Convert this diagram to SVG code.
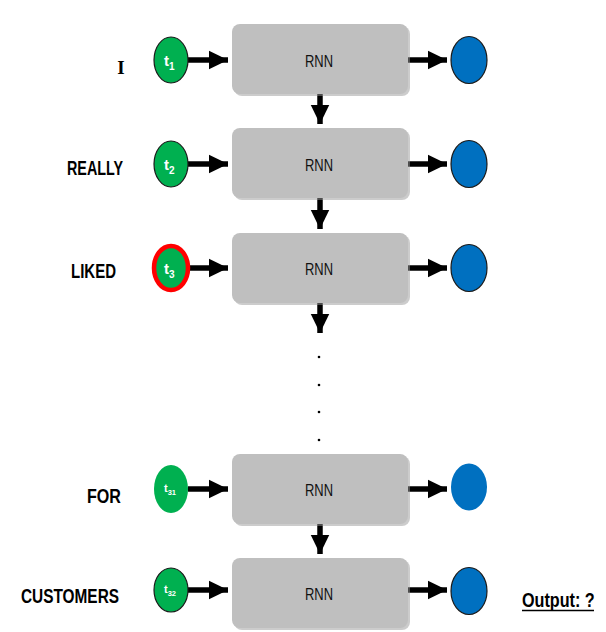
<svg xmlns="http://www.w3.org/2000/svg" width="606" height="632" viewBox="0 0 606 632">
<style>
.box{fill:#BFBFBF}
.shadow{fill:#9a9a9a;opacity:0.5}
.rnn{font-family:"Liberation Sans",Arial,sans-serif;font-size:16px;fill:#111}
.lbl{font-family:"Liberation Sans",Arial,sans-serif;font-weight:bold;font-size:21px;fill:#000}
.green{fill:#00B050}
.blue{fill:#0070C0}
.st{stroke:#1a1a1a;stroke-width:1.2}
.t{font-family:"Liberation Sans",Arial,sans-serif;font-weight:bold;fill:#fff}
.conn{stroke:#000;stroke-width:5.5;fill:none}
.dot{fill:#000}
</style>
<defs>
<marker id="ah" markerWidth="4" markerHeight="4" refX="3.5" refY="2" orient="auto" markerUnits="strokeWidth" viewBox="0 0 4 4">
<path d="M0,0.3 L3.5,2 L0,3.7 Z" fill="#000"/>
</marker>
</defs>

<g id="connectors">
<line class="conn" x1="188" y1="60" x2="228" y2="60" marker-end="url(#ah)"/>
<line class="conn" x1="408" y1="60" x2="447" y2="60" marker-end="url(#ah)"/>
<line class="conn" x1="320" y1="94" x2="320" y2="124" marker-end="url(#ah)"/>
<line class="conn" x1="188" y1="164" x2="228" y2="164" marker-end="url(#ah)"/>
<line class="conn" x1="408" y1="164" x2="447" y2="164" marker-end="url(#ah)"/>
<line class="conn" x1="320" y1="198" x2="320" y2="229" marker-end="url(#ah)"/>
<line class="conn" x1="190" y1="268" x2="228" y2="268" marker-end="url(#ah)"/>
<line class="conn" x1="408" y1="268" x2="447" y2="268" marker-end="url(#ah)"/>
<line class="conn" x1="320" y1="303" x2="320" y2="333" marker-end="url(#ah)"/>
<line class="conn" x1="188" y1="489" x2="228" y2="489" marker-end="url(#ah)"/>
<line class="conn" x1="408" y1="489" x2="447" y2="489" marker-end="url(#ah)"/>
<line class="conn" x1="320" y1="524" x2="320" y2="554" marker-end="url(#ah)"/>
<line class="conn" x1="188" y1="590" x2="228" y2="590" marker-end="url(#ah)"/>
<line class="conn" x1="408" y1="590" x2="447" y2="590" marker-end="url(#ah)"/>
</g>

<g id="dots">
<circle class="dot" cx="319" cy="357" r="1.3"/>
<circle class="dot" cx="319" cy="385" r="1.3"/>
<circle class="dot" cx="319" cy="412" r="1.3"/>
<circle class="dot" cx="319" cy="440" r="1.3"/>
</g>

<g id="rnn1"><rect class="shadow" x="234" y="26" width="176" height="70" rx="8"/><rect class="box" x="232" y="24" width="176" height="70" rx="8"/><text class="rnn" x="319" y="67" text-anchor="middle" textLength="28" lengthAdjust="spacingAndGlyphs">RNN</text></g>
<g id="rnn2"><rect class="shadow" x="234" y="130" width="176" height="70" rx="8"/><rect class="box" x="232" y="128" width="176" height="70" rx="8"/><text class="rnn" x="319" y="171" text-anchor="middle" textLength="28" lengthAdjust="spacingAndGlyphs">RNN</text></g>
<g id="rnn3"><rect class="shadow" x="234" y="235" width="176" height="70" rx="8"/><rect class="box" x="232" y="233" width="176" height="70" rx="8"/><text class="rnn" x="319" y="275" text-anchor="middle" textLength="28" lengthAdjust="spacingAndGlyphs">RNN</text></g>
<g id="rnn5"><rect class="shadow" x="234" y="456" width="176" height="70" rx="8"/><rect class="box" x="232" y="454" width="176" height="70" rx="8"/><text class="rnn" x="319" y="496" text-anchor="middle" textLength="28" lengthAdjust="spacingAndGlyphs">RNN</text></g>
<g id="rnn6"><rect class="shadow" x="234" y="560" width="176" height="70" rx="8"/><rect class="box" x="232" y="558" width="176" height="70" rx="8"/><text class="rnn" x="319" y="600" text-anchor="middle" textLength="28" lengthAdjust="spacingAndGlyphs">RNN</text></g>

<g id="in1"><ellipse class="green st" cx="171" cy="60" rx="17" ry="23"/><text class="t" x="164" y="66" font-size="15">t<tspan font-size="10" dy="4">1</tspan></text></g>
<g id="in2"><ellipse class="green st" cx="171" cy="164" rx="17" ry="23"/><text class="t" x="164" y="170" font-size="15">t<tspan font-size="10" dy="4">2</tspan></text></g>
<g id="in3"><ellipse class="green" cx="171" cy="268" rx="17" ry="22" stroke="#FF0000" stroke-width="4.5"/><text class="t" x="164" y="274" font-size="15">t<tspan font-size="10" dy="4">3</tspan></text></g>
<g id="in31"><ellipse class="green" cx="171" cy="489" rx="17" ry="24"/><text class="t" x="164" y="492" font-size="11">t<tspan font-size="7.5" dy="3">31</tspan></text></g>
<g id="in32"><ellipse class="green st" cx="171" cy="590" rx="17" ry="22"/><text class="t" x="164" y="593" font-size="11">t<tspan font-size="7.5" dy="3">32</tspan></text></g>

<g id="out1"><ellipse class="blue st" cx="469" cy="60" rx="18" ry="23.5"/></g>
<g id="out2"><ellipse class="blue st" cx="469" cy="164" rx="18" ry="23.5"/></g>
<g id="out3"><ellipse class="blue st" cx="469" cy="268" rx="18" ry="23.5"/></g>
<g id="out5"><ellipse class="blue" cx="469" cy="487" rx="18" ry="23.5"/></g>
<g id="out6"><ellipse class="blue st" cx="469" cy="591" rx="18" ry="23.5"/></g>

<g id="labels">
<text x="121" y="74" font-family="'Liberation Serif',serif" font-weight="bold" font-size="19" text-anchor="middle">I</text>
<text class="lbl" x="67" y="175" textLength="56" lengthAdjust="spacingAndGlyphs">REALLY</text>
<text class="lbl" x="71" y="278" textLength="45" lengthAdjust="spacingAndGlyphs">LIKED</text>
<text class="lbl" x="87" y="503" textLength="34" lengthAdjust="spacingAndGlyphs">FOR</text>
<text class="lbl" x="21" y="603" textLength="98" lengthAdjust="spacingAndGlyphs">CUSTOMERS</text>
<text class="lbl" transform="translate(522,607) scale(0.77,1)" x="0" y="0" font-size="19">Output: ?</text>
<line x1="522" y1="610.5" x2="594" y2="610.5" stroke="#000" stroke-width="1.5"/>
</g>
</svg>
